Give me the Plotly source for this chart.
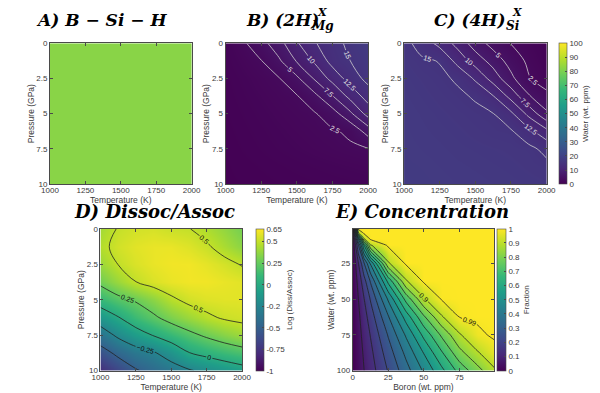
import plotly.graph_objects as go

# ---------------- data ----------------
T_VALUES = [1000, 1125, 1250, 1375, 1500, 1625, 1750, 1875, 2000]      # Temperature (K)
P_VALUES = [0, 1.25, 2.5, 3.75, 5, 6.25, 7.5, 8.75, 10]                # Pressure (GPa)

# A) B-Si-H : uniform water content
A_T_EDGES = [1000, 2000]
A_P_EDGES = [0, 10]
A_WATER = [[82]]

# B) (2H)^X_Mg water (wt. ppm); rows = pressure, cols = temperature
B_WATER = [
    [1.0, 2.14, 4.07, 6.56, 9.72, 12.3, 13.97, 15.66, 17.5],
    [0.8, 1.61, 2.42, 4.62, 7.71, 10.4, 13.41, 15.0, 16.5],
    [0.6, 1.19, 1.78, 2.38, 4.51, 7.78, 10.87, 13.6, 15.8],
    [0.5, 0.96, 1.42, 1.88, 2.35, 4.34, 7.42, 10.85, 13.6],
    [0.4, 0.78, 1.16, 1.54, 1.92, 2.31, 3.87, 7.02, 11.0],
    [0.3, 0.62, 0.94, 1.26, 1.59, 1.91, 2.23, 2.95, 6.1],
    [0.2, 0.48, 0.75, 1.03, 1.3, 1.58, 1.85, 2.13, 2.4],
    [0.1, 0.29, 0.48, 0.66, 0.85, 1.04, 1.23, 1.41, 1.6],
    [0.05, 0.17, 0.29, 0.41, 0.53, 0.64, 0.76, 0.88, 1.0],
]

# C) (4H)^X_Si water (wt. ppm)
C_WATER = [
    [15.8, 13.99, 11.69, 9.19, 6.27, 4.07, 2.42, 1.46, 0.5],
    [16.2, 15.35, 14.9, 11.63, 8.92, 6.49, 3.98, 2.0, 0.8],
    [16.5, 15.95, 15.4, 14.75, 12.08, 8.95, 5.62, 2.66, 1.3],
    [16.8, 16.3, 15.8, 15.34, 14.8, 12.57, 9.12, 5.22, 3.1],
    [17.0, 16.6, 16.2, 15.8, 15.4, 15.05, 12.98, 9.26, 5.42],
    [17.1, 16.8, 16.5, 16.2, 15.8, 15.45, 15.25, 13.23, 10.66],
    [17.2, 17.0, 16.8, 16.5, 16.3, 16.1, 15.9, 15.6, 14.3],
    [17.3, 17.2, 17.0, 16.8, 16.6, 16.4, 16.2, 15.9, 15.6],
    [17.4, 17.3, 17.2, 17.0, 16.9, 16.7, 16.5, 16.3, 16.1],
]

# D) log(Dissoc/Assoc)
D_LOGRATIO = [
    [0.42, 0.51, 0.54, 0.55, 0.52, 0.505, 0.45, 0.38, 0.30],
    [0.46, 0.54, 0.58, 0.60, 0.60, 0.57, 0.52, 0.44, 0.36],
    [0.40, 0.502, 0.56, 0.60, 0.62, 0.62, 0.59, 0.545, 0.49],
    [0.29, 0.40, 0.498, 0.56, 0.60, 0.62, 0.62, 0.60, 0.58],
    [0.10, 0.20, 0.27, 0.36, 0.47, 0.54, 0.57, 0.58, 0.58],
    [-0.13, -0.01, 0.12, 0.22, 0.32, 0.40, 0.47, 0.52, 0.54],
    [-0.37, -0.21, -0.09, 0.01, 0.11, 0.20, 0.28, 0.35, 0.41],
    [-0.59, -0.45, -0.34, -0.27, -0.15, -0.005, 0.06, 0.12, 0.17],
    [-0.78, -0.65, -0.52, -0.43, -0.35, -0.27, -0.20, -0.14, -0.08],
]

# E) Concentration fraction; rows = water (wt. ppm), cols = boron (wt. ppm)
BORON = [0, 4, 8, 12.5, 25, 37.5, 50, 62.5, 75, 87.5, 100]
WATER = [1, 4, 8, 12.5, 25, 37.5, 50, 62.5, 75, 87.5, 100]
E_FRACTION = [
    [0, 1, 1, 1, 1, 1, 1, 1, 1, 1, 1],
    [0, 0.89, 1, 1, 1, 1, 1, 1, 1, 1, 1],
    [0, 0.46, 0.89, 1, 1, 1, 1, 1, 1, 1, 1],
    [0, 0.294, 0.594, 0.89, 1, 1, 1, 1, 1, 1, 1],
    [0, 0.147, 0.294, 0.46, 0.89, 1, 1, 1, 1, 1, 1],
    [0, 0.098, 0.196, 0.306, 0.62, 0.89, 1, 1, 1, 1, 1],
    [0, 0.074, 0.147, 0.23, 0.46, 0.70, 0.89, 0.995, 1, 1, 1],
    [0, 0.059, 0.118, 0.184, 0.368, 0.556, 0.738, 0.89, 0.991, 1, 1],
    [0, 0.049, 0.098, 0.153, 0.306, 0.46, 0.62, 0.763, 0.89, 0.977, 1],
    [0, 0.042, 0.084, 0.131, 0.263, 0.394, 0.529, 0.666, 0.80, 0.89, 0.967],
    [0, 0.037, 0.074, 0.115, 0.23, 0.345, 0.46, 0.58, 0.70, 0.795, 0.89],
]

T_TICKS = [1000, 1250, 1500, 1750, 2000]
P_TICKS = [0, 2.5, 5, 7.5, 10]
WATER_CB_TICKS = [0, 10, 20, 30, 40, 50, 60, 70, 80, 90, 100]
D_CB_TICKS = [0.65, 0.5, 0.25, 0, -0.25, -0.5, -0.75, -1]
D_CB_TEXT = ["0.65", "0.5", "0.25", "0", "-0.2", "-0.5", "-0.75", "-1"]
E_CB_TICKS = [0, 0.1, 0.2, 0.3, 0.4, 0.5, 0.6, 0.7, 0.8, 0.9, 1]
E_X_TICKS = [0, 25, 50, 75]
E_Y_TICKS = [25, 50, 75, 100]

# ---------------- figure ----------------
W, H = 600, 393
TXT = "#3a3a3a"
AX = "#4a4a4a"
SANS = "Liberation Sans"
SERIF = "DejaVu Serif"


def px_x(a, b):
    return [a / W, b / W]


def px_y(top, bottom):
    return [1 - bottom / H, 1 - top / H]


def axis(dom, anchor, title, rng, ticks, standoff):
    return dict(domain=dom, anchor=anchor, range=rng, tickvals=ticks,
                title=dict(text=title, font=dict(size=8.5, color=TXT), standoff=0),
                tickfont=dict(size=8, color=TXT), ticks="inside", ticklen=3,
                tickcolor=AX, showline=True, linecolor=AX, linewidth=0.8,
                mirror="ticks", showgrid=False, zeroline=False,
                ticklabelstandoff=standoff)


def xax(dom, anchor, title, rng, ticks):
    return axis(dom, anchor, title, rng, ticks, -1)


def yax(dom, anchor, title, rng, ticks):
    return axis(dom, anchor, title, rng, ticks, 0)


def cbar(x, thick, ticks, text, title, y_dom):
    return dict(x=x, xanchor="left", xpad=0, ypad=0,
                y=(y_dom[0] + y_dom[1]) / 2, yanchor="middle",
                len=y_dom[1] - y_dom[0], lenmode="fraction", thickness=thick,
                tickvals=ticks, ticktext=text, ticks="inside", ticklen=2,
                tickcolor=AX, tickfont=dict(size=8, color=TXT),
                outlinewidth=0.6, outlinecolor=AX,
                title=dict(text=title, side="right", font=dict(size=8, color=TXT)))


top_y = px_y(32, 176)
bot_y = px_y(222, 367)
ax_a = px_x(34, 180)
ax_b = px_x(215, 362)
ax_c = px_x(399, 546)
ax_d = px_x(86, 232)
ax_e = px_x(346, 492)

fig = go.Figure()


def field(x, y, z, zmin, zmax, xa, ya, colorbar=None):
    fig.add_trace(go.Heatmap(x=x, y=y, z=z, colorscale="Viridis", zmin=zmin, zmax=zmax,
                             zsmooth="best", showscale=colorbar is not None,
                             colorbar=colorbar, xaxis=xa, yaxis=ya, hoverinfo="skip"))


def lines(x, y, z, start, end, size, xa, ya, color, labelcolor, labels=True, smooth=1):
    fig.add_trace(go.Contour(
        x=x, y=y, z=z, autocontour=False,
        contours=dict(start=start, end=end, size=size, coloring="none",
                      showlabels=labels,
                      labelfont=dict(size=7, color=labelcolor, family=SANS)),
        line=dict(color=color, width=0.8, smoothing=smooth),
        showscale=False, xaxis=xa, yaxis=ya, hoverinfo="skip"))


# A
fig.add_trace(go.Heatmap(x=A_T_EDGES, y=A_P_EDGES, z=A_WATER, colorscale="Viridis",
                         zmin=0, zmax=100, showscale=False, xaxis="x", yaxis="y",
                         hoverinfo="skip"))
# B
field(T_VALUES, P_VALUES, B_WATER, 0, 100, "x2", "y2")
lines(T_VALUES, P_VALUES, B_WATER, 2.5, 15, 2.5, "x2", "y2", "#cfcfcf", "#e6e6e6")
# C
field(T_VALUES, P_VALUES, C_WATER, 0, 100, "x3", "y3",
      cbar(559 / W, 8, WATER_CB_TICKS, [str(v) for v in WATER_CB_TICKS],
           "Water (wt. ppm)", top_y))
lines(T_VALUES, P_VALUES, C_WATER, 2.5, 15, 2.5, "x3", "y3", "#cfcfcf", "#e6e6e6")
# D
field(T_VALUES, P_VALUES, D_LOGRATIO, -1, 0.65, "x4", "y4",
      cbar(246 / W, 8, D_CB_TICKS, D_CB_TEXT, "Log (Diss/Assoc)", bot_y))
lines(T_VALUES, P_VALUES, D_LOGRATIO, -0.5, 0.5, 0.25, "x4", "y4", "#222", "#111")
# E
field(BORON, WATER, E_FRACTION, 0, 1, "x5", "y5",
      cbar(495 / W, 9, E_CB_TICKS, [f"{v:g}" for v in E_CB_TICKS], "Fraction", bot_y))
lines(BORON, WATER, E_FRACTION, 0.075, 0.825, 0.075, "x5", "y5", "#222", "#111",
      labels=False, smooth=0.6)
lines(BORON, WATER, E_FRACTION, 0.9, 0.99, 0.09, "x5", "y5", "#222", "#111",
      labels=True, smooth=0.6)

fig.update_layout(
    width=W, height=H, margin=dict(l=0, r=0, t=0, b=0),
    paper_bgcolor="white", plot_bgcolor="white", showlegend=False,
    font=dict(family=SANS, size=8, color=TXT),
    xaxis=xax(ax_a, "y", "Temperature (K)", [1000, 2000], T_TICKS),
    yaxis=yax(top_y, "x", "Pressure (GPa)", [10, 0], P_TICKS),
    xaxis2=xax(ax_b, "y2", "Temperature (K)", [1000, 2000], T_TICKS),
    yaxis2=yax(top_y, "x2", "Pressure (GPa)", [10, 0], P_TICKS),
    xaxis3=xax(ax_c, "y3", "Temperature (K)", [1000, 2000], T_TICKS),
    yaxis3=yax(top_y, "x3", "Pressure (GPa)", [10, 0], P_TICKS),
    xaxis4=xax(ax_d, "y4", "Temperature (K)", [1000, 2000], T_TICKS),
    yaxis4=yax(bot_y, "x4", "Pressure (GPa)", [10, 0], P_TICKS),
    xaxis5=xax(ax_e, "y5", "Boron (wt. ppm)", [0, 99.5], E_X_TICKS),
    yaxis5=yax(bot_y, "x5", "Water (wt. ppm)", [100, 1], E_Y_TICKS),
)


def tfont(size):
    return dict(family=SERIF, size=size, color="black", weight="bold", style="italic")


def ann(text, x, y, xanchor="left", size=17):
    fig.add_annotation(text=text, x=x / W, y=1 - y / H, xref="paper",
                       yref="paper", xanchor=xanchor, yanchor="middle", showarrow=False,
                       font=tfont(size), borderpad=0)


ann("A) B − Si − H", 19, 8)
ann("B) (2H)", 312, 8, "right")
ann("X", 308, 0, "left", 11)
ann("Mg", 302, 14, "left", 12)
ann("C) (4H)", 504, 8, "right")
ann("X", 509, 0, "left", 11)
ann("Si", 503, 14, "left", 12)
ann("D) Dissoc/Assoc", 58, 204, "left", 18)
ann("E) Concentration", 327, 204, "left", 18)

fig.write_html("out.html")
